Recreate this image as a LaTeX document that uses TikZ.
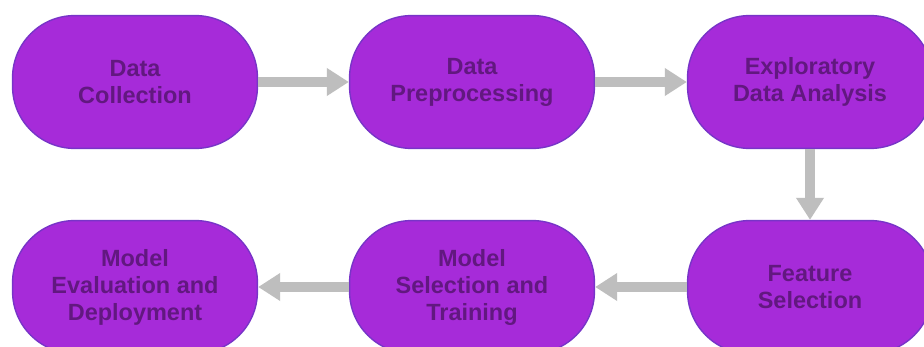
\documentclass[tikz,border=0pt]{standalone}
\usepackage{fontspec}
\setmainfont{Liberation Sans}
\usetikzlibrary{arrows.meta}
\definecolor{stepfill}{RGB}{166,43,217}
\definecolor{stepline}{RGB}{120,52,200}
\definecolor{steptext}{RGB}{98,24,128}
\definecolor{flowgray}{RGB}{190,190,190}
\begin{document}
\begin{tikzpicture}[x=0.025cm,y=-0.025cm]
	\tikzset{stage/.style={draw=stepline,line width=1pt,fill=stepfill,rectangle,rounded corners=1.55cm,minimum width=6.12cm,minimum height=3.32cm,align=center,text=steptext,font=\fontsize{16.7}{19.2}\selectfont\bfseries},
		flow/.style={draw=flowgray,line width=0.25cm,-{Triangle[width=0.66cm,length=0.55cm]}}}
	\useasboundingbox (0,0) rectangle (924,347);
	\clip (0,0) rectangle (924,347);
	\fill[white] (0,0) rectangle (924,347);
	\node [stage] (A) at (135,82) {Data\\Collection};
	\node [stage] (B) at (472,82) {Data\\Preprocessing};
	\node [stage] (C) at (810,82) {Exploratory\\Data Analysis};
	\node [stage] (D) at (810,287) {Feature\\Selection};
	\node [stage] (E) at (472,287) {Model\\Selection and\\Training};
	\node [stage] (F) at (135,287) {Model\\Evaluation and\\Deployment};
	\draw [flow] (A) -- (B);
	\draw [flow] (B) -- (C);
	\draw [flow] (C) -- (D);
	\draw [flow] (D) -- (E);
	\draw [flow] (E) -- (F);
\end{tikzpicture}
\end{document}
